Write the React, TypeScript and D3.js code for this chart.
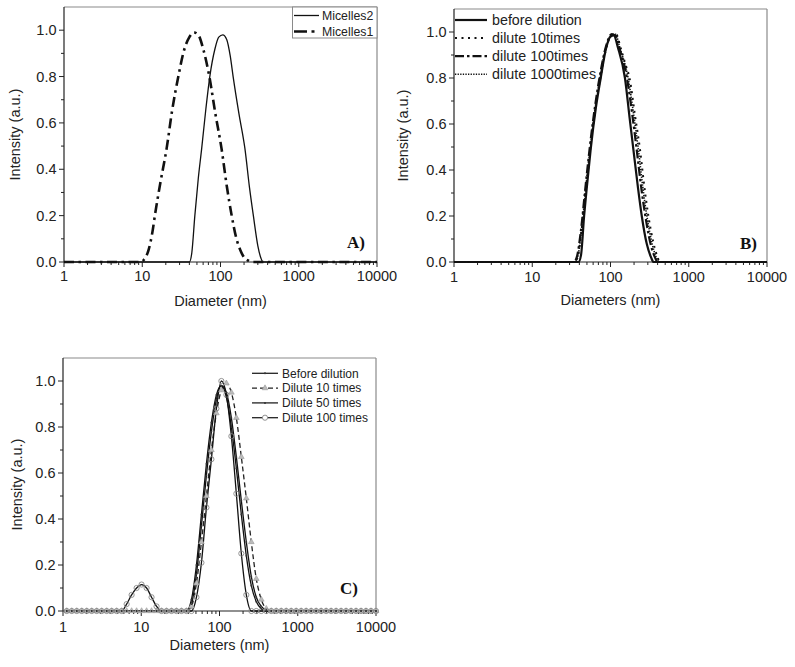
import React from "react";
import * as d3 from "d3";

type Pt = [number, number];

const SANS = "'Liberation Sans', Arial, sans-serif";
const SERIF = "'Liberation Serif', 'Times New Roman', serif";

// ---------- axis ticks ----------
const X_MAJOR = [1, 10, 100, 1000, 10000];
const X_MAJOR_LABELS = ["1", "10", "100", "1000", "10000"];
const Y_MAJOR = [0, 0.2, 0.4, 0.6, 0.8, 1.0];
const Y_MAJOR_LABELS = ["0.0", "0.2", "0.4", "0.6", "0.8", "1.0"];
const Y_MINOR = [0.1, 0.3, 0.5, 0.7, 0.9];

// ---------- panel A ----------
const A_NAMES = ["Micelles2", "Micelles1"];
const MICELLES2: Pt[] = [
  [1, 0], [30, 0], [40, 0], [43, 0.04], [47, 0.2], [52, 0.36], [57.5, 0.49], [65, 0.66],
  [73, 0.8], [85, 0.92], [95, 0.97], [107, 0.98], [120, 0.96], [133, 0.89], [145, 0.8],
  [172, 0.64], [205, 0.49], [235, 0.32], [263, 0.2], [300, 0.07], [330, 0.015], [350, 0], [10000, 0],
];
const MICELLES1: Pt[] = [
  [1, 0], [9.5, 0], [10.5, 0.01], [12, 0.05], [13.5, 0.13], [14.5, 0.2], [17, 0.34], [20.5, 0.49],
  [24, 0.65], [28.9, 0.8], [34, 0.91], [40, 0.97], [46, 0.99], [52, 0.98], [60, 0.92], [72, 0.8],
  [86, 0.64], [103, 0.49], [120, 0.33], [139, 0.2], [160, 0.1], [180, 0.05], [200, 0.02],
  [230, 0.005], [260, 0], [10000, 0],
];

// ---------- panel B ----------
const B_NAMES = ["before dilution", "dilute 10times", "dilute 100times", "dilute 1000times"];
const B_BEFORE: Pt[] = [
  [1, 0], [39, 0], [42, 0.03], [46, 0.2], [50, 0.33], [55.8, 0.49], [65, 0.67], [75, 0.8],
  [88, 0.93], [100, 0.98], [110, 0.985], [125, 0.93], [153, 0.8], [175, 0.63], [196, 0.49],
  [225, 0.32], [251, 0.2], [290, 0.08], [330, 0.02], [355, 0], [10000, 0],
];
const B_D10: Pt[] = [
  [1, 0], [34, 0], [38, 0.02], [43, 0.15], [48, 0.3], [55, 0.49], [64, 0.67], [75, 0.81],
  [90, 0.94], [105, 0.99], [118, 0.99], [135, 0.93], [155, 0.86], [175, 0.8], [205, 0.64],
  [238, 0.49], [270, 0.33], [305, 0.2], [350, 0.09], [400, 0.02], [430, 0], [10000, 0],
];
const B_D100: Pt[] = [
  [1, 0], [34, 0], [37, 0.02], [42, 0.14], [47, 0.3], [54, 0.49], [63, 0.67], [74, 0.82],
  [88, 0.94], [103, 0.99], [115, 0.985], [130, 0.93], [162, 0.8], [190, 0.64], [216, 0.49],
  [250, 0.31], [285, 0.18], [330, 0.07], [370, 0.02], [400, 0], [10000, 0],
];
const B_D1000: Pt[] = [
  [1, 0], [35, 0], [38, 0.02], [43, 0.15], [48, 0.31], [55, 0.49], [64, 0.67], [75, 0.82],
  [89, 0.94], [104, 0.99], [116, 0.99], [132, 0.93], [168, 0.8], [198, 0.64], [227, 0.49],
  [260, 0.32], [295, 0.19], [340, 0.08], [385, 0.02], [420, 0], [10000, 0],
];

// ---------- panel C (size bins) ----------
const C_NAMES = ["Before dilution", "Dilute 10 times", "Dilute 50 times", "Dilute 100 times"];
const C_BINS = [
  1.117, 1.294, 1.499, 1.736, 2.01, 2.328, 2.696, 3.122, 3.615, 4.187, 4.849, 5.615, 6.503, 7.531,
  8.721, 10.1, 11.7, 13.54, 15.69, 18.17, 21.04, 24.36, 28.21, 32.67, 37.84, 43.82, 50.75, 58.77,
  68.06, 78.82, 91.28, 105.7, 122.4, 141.8, 164.2, 190.1, 220.2, 255.0, 295.3, 342.0, 396.1, 458.7,
  531.2, 615.1, 712.4, 825.0, 955.4, 1106, 1281, 1484, 1718, 1990, 2305, 2669, 3091, 3580, 4145,
  4801, 5560, 6439, 7456, 8635, 10000,
];
const C_BEFORE = [
  0, 0, 0, 0, 0, 0, 0, 0, 0, 0, 0, 0, 0, 0, 0, 0, 0, 0, 0, 0, 0, 0, 0, 0, 0,
  0.05, 0.2, 0.42, 0.64, 0.82, 0.94, 0.98, 0.93, 0.8, 0.62, 0.42, 0.24, 0.11, 0.04, 0.01,
  0, 0, 0, 0, 0, 0, 0, 0, 0, 0, 0, 0, 0, 0, 0, 0, 0, 0, 0, 0, 0, 0, 0,
];
const C_D10 = [
  0, 0, 0, 0, 0, 0, 0, 0, 0, 0, 0, 0, 0, 0, 0, 0, 0, 0, 0, 0, 0, 0, 0, 0, 0,
  0.02, 0.12, 0.3, 0.5, 0.7, 0.86, 0.96, 0.99, 0.95, 0.84, 0.67, 0.49, 0.3, 0.14, 0.05, 0.01,
  0, 0, 0, 0, 0, 0, 0, 0, 0, 0, 0, 0, 0, 0, 0, 0, 0, 0, 0, 0, 0, 0,
];
const C_D50 = [
  0, 0, 0, 0, 0, 0, 0, 0, 0, 0, 0, 0, 0, 0, 0, 0, 0, 0, 0, 0, 0, 0, 0, 0, 0,
  0.03, 0.16, 0.37, 0.59, 0.78, 0.92, 0.98, 0.95, 0.84, 0.67, 0.48, 0.3, 0.15, 0.06, 0.02, 0.005,
  0, 0, 0, 0, 0, 0, 0, 0, 0, 0, 0, 0, 0, 0, 0, 0, 0, 0, 0, 0, 0, 0,
];
const C_D100 = [
  0, 0, 0, 0, 0, 0, 0, 0, 0, 0, 0, 0,
  0.03, 0.07, 0.1, 0.115, 0.1, 0.06, 0.02,
  0, 0, 0, 0, 0, 0, 0,
  0.06, 0.21, 0.45, 0.66, 0.88, 1.0, 0.94, 0.76, 0.51, 0.25, 0.07,
  0, 0, 0, 0, 0, 0, 0, 0, 0, 0, 0, 0, 0, 0, 0, 0, 0, 0, 0, 0, 0, 0, 0, 0, 0, 0,
];

const toPts = (vals: number[]): Pt[] => C_BINS.map((b, i) => [b, vals[i]] as Pt);

type Scales = { xs: d3.ScaleLogarithmic<number, number>; ys: d3.ScaleLinear<number, number> };

function Axes({ xs, ys, xTitle, tickLabelY, xTitleY, yTitleX, panelLabel, labelX, labelY }: Scales & {
  xTitle: string; tickLabelY: number; xTitleY: number; yTitleX: number; panelLabel: string; labelX: number; labelY: number;
}) {
  const [x0, x1] = xs.range();
  const [yb, yt] = ys.range();
  const allX = xs.ticks();
  const minorX = allX.filter((v) => Math.abs(Math.log10(v) - Math.round(Math.log10(v))) > 1e-6);
  return (
    <g>
      {/* frame */}
      <line x1={x0} x2={x1} y1={yt} y2={yt} stroke="#8a8a8a" strokeWidth={1.2} />
      <line x1={x1} x2={x1} y1={yt} y2={yb} stroke="#8a8a8a" strokeWidth={1.2} />
      <line x1={x0} x2={x0} y1={yt} y2={yb} stroke="#222" strokeWidth={1.2} />
      <line x1={x0} x2={x1} y1={yb} y2={yb} stroke="#222" strokeWidth={1.2} />
      {/* y ticks */}
      {Y_MAJOR.map((v, i) => (
        <g key={"ym" + i}>
          <line x1={x0 - 5} x2={x0} y1={ys(v)} y2={ys(v)} stroke="#222" strokeWidth={1} />
          <text x={x0 - 7.5} y={ys(v) + 5} textAnchor="end" fontFamily={SANS} fontSize={14.5} fill="#222">
            {Y_MAJOR_LABELS[i]}
          </text>
        </g>
      ))}
      {Y_MINOR.map((v, i) => (
        <line key={"yn" + i} x1={x0 - 3} x2={x0} y1={ys(v)} y2={ys(v)} stroke="#222" strokeWidth={1} />
      ))}
      {/* x ticks */}
      {X_MAJOR.map((v, i) => (
        <g key={"xm" + i}>
          <line x1={xs(v)} x2={xs(v)} y1={yb} y2={yb + 5} stroke="#222" strokeWidth={1} />
          <text x={xs(v)} y={tickLabelY + 5} textAnchor="middle" fontFamily={SANS} fontSize={14.5} fill="#222">
            {X_MAJOR_LABELS[i]}
          </text>
        </g>
      ))}
      {minorX.map((v, i) => (
        <line key={"xn" + i} x1={xs(v)} x2={xs(v)} y1={yb} y2={yb + 3} stroke="#222" strokeWidth={1} />
      ))}
      <text x={(x0 + x1) / 2} y={xTitleY + 5} textAnchor="middle" fontFamily={SANS} fontSize={14.5} fill="#222">
        {xTitle}
      </text>
      <text
        transform={`translate(${yTitleX},${(yt + yb) / 2}) rotate(-90)`}
        textAnchor="middle"
        dy="0.35em"
        fontFamily={SANS}
        fontSize={14.5}
        fill="#222"
      >
        Intensity (a.u.)
      </text>
      <text x={labelX} y={labelY} textAnchor="end" fontFamily={SERIF} fontWeight="bold" fontSize={17} fill="#111">
        {panelLabel}
      </text>
    </g>
  );
}

function mkLine(xs: Scales["xs"], ys: Scales["ys"]) {
  return d3
    .line<Pt>()
    .x((d) => xs(d[0]))
    .y((d) => ys(d[1]))
    .curve(d3.curveMonotoneX);
}

export default function App() {
  // Panel A
  const xsA = d3.scaleLog().domain([1, 10000]).range([64, 377]);
  const ysA = d3.scaleLinear().domain([0, 1.1]).range([262, 7]);
  const lineA = mkLine(xsA, ysA);
  // Panel B
  const xsB = d3.scaleLog().domain([1, 10000]).range([454, 767]);
  const ysB = d3.scaleLinear().domain([0, 1.1]).range([262, 9]);
  const lineB = mkLine(xsB, ysB);
  // Panel C
  const xsC = d3.scaleLog().domain([1, 10000]).range([63, 376]);
  const ysC = d3.scaleLinear().domain([0, 1.1]).range([611, 358]);
  const lineC = mkLine(xsC, ysC);

  const cSeries = [toPts(C_BEFORE), toPts(C_D10), toPts(C_D50), toPts(C_D100)];
  const tri = d3.symbol().type(d3.symbolTriangle).size(14)();

  const bStyles = [
    { w: 2.2, dash: undefined as string | undefined, cap: "butt" },
    { w: 2, dash: "2 4.5", cap: "butt" },
    { w: 2.2, dash: "9 3 2.5 3", cap: "butt" },
    { w: 1.6, dash: "1.3 1.3", cap: "butt" },
  ];
  const bData = [B_BEFORE, B_D10, B_D100, B_D1000];

  return (
    <svg width={795} height={667} style={{ display: "block", position: "absolute", left: 0, top: 0 }}>
      <rect x={0} y={0} width={795} height={667} fill="#fff" />
      {/* ---------- Panel A ---------- */}
      <Axes xs={xsA} ys={ysA} xTitle="Diameter (nm)" tickLabelY={276} xTitleY={301} yTitleX={15}
        panelLabel="A)" labelX={365} labelY={248} />
      <path d={lineA(MICELLES2) || ""} fill="none" stroke="#111" strokeWidth={1.3} />
      <path d={lineA(MICELLES1) || ""} fill="none" stroke="#111" strokeWidth={2.6} strokeDasharray="10 4.5 2.5 4.5" />
      <g>
        <rect x={292.5} y={7} width={84.5} height={31} fill="#fff" stroke="#8a8a8a" strokeWidth={1} />
        <line x1={294} x2={319} y1={15.5} y2={15.5} stroke="#111" strokeWidth={1.3} />
        <line x1={294} x2={319} y1={31.5} y2={31.5} stroke="#111" strokeWidth={2.6} strokeDasharray="13 4.5 3 10" />
        <text x={322} y={19.8} fontFamily={SANS} fontSize={12.3} fill="#222">{A_NAMES[0]}</text>
        <text x={322} y={35.8} fontFamily={SANS} fontSize={12.3} fill="#222">{A_NAMES[1]}</text>
      </g>

      {/* ---------- Panel B ---------- */}
      <Axes xs={xsB} ys={ysB} xTitle="Diameters (nm)" tickLabelY={277} xTitleY={300} yTitleX={403}
        panelLabel="B)" labelX={757} labelY={249} />
      {bData.map((d, i) => (
        <path key={"b" + i} d={lineB(d) || ""} fill="none" stroke="#111" strokeWidth={bStyles[i].w}
          strokeDasharray={bStyles[i].dash} />
      ))}
      {B_NAMES.map((n, i) => {
        const y = 20 + i * 18.1;
        return (
          <g key={"bl" + i}>
            <line x1={455} x2={487} y1={y} y2={y} stroke="#111" strokeWidth={bStyles[i].w}
              strokeDasharray={bStyles[i].dash} />
            <text x={492} y={y + 5} fontFamily={SANS} fontSize={14.3} fill="#222">{n}</text>
          </g>
        );
      })}

      {/* ---------- Panel C ---------- */}
      <Axes xs={xsC} ys={ysC} xTitle="Diameters (nm)" tickLabelY={627} xTitleY={645} yTitleX={17}
        panelLabel="C)" labelX={358} labelY={594} />
      <path d={lineC(cSeries[1]) || ""} fill="none" stroke="#222" strokeWidth={1.3} strokeDasharray="5 3" />
      <path d={lineC(cSeries[0]) || ""} fill="none" stroke="#111" strokeWidth={1.3} />
      <path d={lineC(cSeries[2]) || ""} fill="none" stroke="#111" strokeWidth={1.3} />
      <path d={lineC(cSeries[3]) || ""} fill="none" stroke="#111" strokeWidth={1.3} />
      {cSeries[1].map((d, i) => (
        <path key={"ct" + i} d={tri || ""} transform={`translate(${xsC(d[0])},${ysC(d[1])})`}
          fill="#bbb" stroke="#999" strokeWidth={0.6} />
      ))}
      {cSeries[3].map((d, i) => (
        <circle key={"cc" + i} cx={xsC(d[0])} cy={ysC(d[1])} r={2.6} fill="none" stroke="#888" strokeWidth={0.9} />
      ))}
      {[cSeries[0], cSeries[2]].map((s, k) =>
        s.map((d, i) => (
          <circle key={"cd" + k + "-" + i} cx={xsC(d[0])} cy={ysC(d[1])} r={0.9} fill="#333" />
        ))
      )}
      {C_NAMES.map((n, i) => {
        const y = 373.3 + i * 14.8;
        return (
          <g key={"cl" + i}>
            <line x1={252} x2={278} y1={y} y2={y} stroke="#222" strokeWidth={1.3}
              strokeDasharray={i === 1 ? "5 3" : undefined} />
            {i === 1 && (
              <path d={tri || ""} transform={`translate(265,${y})`} fill="#bbb" stroke="#999" strokeWidth={0.6} />
            )}
            {i === 3 && <circle cx={265} cy={y} r={2.6} fill="#fff" stroke="#888" strokeWidth={0.9} />}
            {(i === 0 || i === 2) && <circle cx={265} cy={y} r={1} fill="#333" />}
            <text x={282} y={y + 4.3} fontFamily={SANS} fontSize={12} fill="#222">{n}</text>
          </g>
        );
      })}
    </svg>
  );
}
